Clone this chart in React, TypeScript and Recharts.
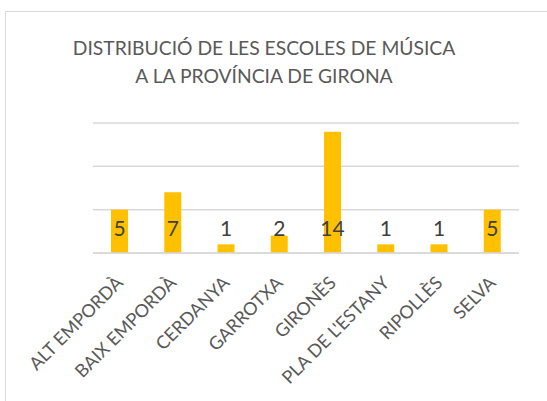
import React from 'react'
import { BarChart, Bar, XAxis, YAxis, CartesianGrid, LabelList } from 'recharts'

const comarques = ['ALT EMPORDÀ', 'BAIX EMPORDÀ', 'CERDANYA', 'GARROTXA', 'GIRONÈS', "PLA DE L'ESTANY", 'RIPOLLÈS', 'SELVA']
const escoles = [5, 7, 1, 2, 14, 1, 1, 5]
const yTicks = [0, 5, 10, 15]
const titleLines = ['DISTRIBUCIÓ DE LES ESCOLES DE MÚSICA', 'A LA PROVÍNCIA DE GIRONA']

const data = comarques.map((name, i) => ({ name, value: escoles[i] }))

const FONT = 'Lato, "Open Sans", sans-serif'

// rotated category label, end anchored just under the axis
const AngledTick = (props: any) => {
  const { x, y, payload } = props
  return (
    <g transform={`translate(${x + 4.5},${y + 29})`}>
      <text transform="rotate(-45)" textAnchor="end" fontSize={18} fill="#595959" fontFamily={FONT}>
        {payload.value}
      </text>
    </g>
  )
}

// value labels sit near the base of each bar
const BaseLabel = (props: any) => {
  const { x, y, width, height, value } = props
  return (
    <text x={x + width / 2} y={y + height - 17.5} textAnchor="middle" fontSize={21} fill="#404040" fontFamily={FONT}>
      {value}
    </text>
  )
}

export default function App() {
  return (
    <div style={{ position: 'absolute', left: 0, top: 0, width: 547, height: 401, overflow: 'hidden', background: '#fff' }}>
      <div style={{ position: 'absolute', left: 5, top: 11, width: 600, height: 450, border: '1px solid #d9d9d9' }} />
      <div
        style={{
          position: 'absolute',
          left: 64,
          width: 400,
          top: 34,
          textAlign: 'center',
          fontFamily: FONT,
          fontSize: 19.3,
          lineHeight: '28px',
          color: '#595959'
        }}
      >
        {titleLines.map(t => (
          <div key={t}>{t}</div>
        ))}
      </div>
      <div style={{ position: 'absolute', left: 0, top: 0 }}>
        <BarChart width={547} height={401} data={data} margin={{ top: 123, right: 28, left: 93, bottom: 0 }}>
          <CartesianGrid vertical={false} stroke="#d9d9d9" strokeWidth={1.5} />
          <XAxis
            dataKey="name"
            interval={0}
            tickLine={false}
            tickSize={0}
            axisLine={{ stroke: '#d9d9d9', strokeWidth: 1.5 }}
            tick={<AngledTick />}
            height={148}
          />
          <YAxis hide domain={[0, 15]} ticks={yTicks} width={0} />
          <Bar dataKey="value" fill="#FFC000" barSize={17} isAnimationActive={false}>
            <LabelList dataKey="value" content={<BaseLabel />} />
          </Bar>
        </BarChart>
      </div>
    </div>
  )
}
